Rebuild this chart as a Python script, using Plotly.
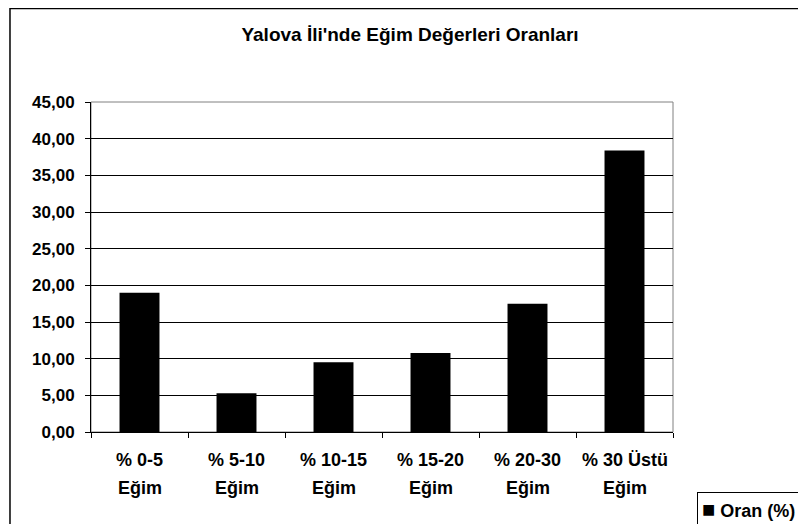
import plotly.graph_objects as go

# slope classes and their share (%)
categories = ['% 0-5', '% 5-10', '% 10-15', '% 15-20', '% 20-30', '% 30 Üstü']
second_line = ['Eğim'] * 6
values = [19.00, 5.28, 9.50, 10.78, 17.50, 38.37]
series_name = 'Oran (%)'
title_text = "Yalova İli'nde Eğim Değerleri Oranları"

font_family = 'Liberation Sans, Arial, sans-serif'

fig = go.Figure()
fig.add_trace(go.Bar(x=categories, y=values, name=series_name,
                     marker=dict(color='black', line=dict(width=0))))

# two-line category labels, Excel style spacing
annotations = []
for cat, sub in zip(categories, second_line):
    annotations.append(dict(x=cat, y=0, xref='x', yref='paper', text='<b>' + cat + '</b>',
                            showarrow=False, yanchor='middle', yshift=-28,
                            font=dict(size=18, color='black')))
    annotations.append(dict(x=cat, y=0, xref='x', yref='paper', text='<b>' + sub + '</b>',
                            showarrow=False, yanchor='middle', yshift=-56,
                            font=dict(size=18, color='black')))

# legend box in the lower right corner
annotations.append(dict(x=1.0412, y=-0.1818, xref='paper', yref='paper',
                        text='<span style="font-size:22px">■</span><b> ' + series_name + '</b>',
                        showarrow=False, xanchor='left', yanchor='top', align='left',
                        bordercolor='black', borderwidth=1, borderpad=4,
                        bgcolor='white', font=dict(size=18, color='black')))

shapes = [
    # plot area frame (grey)
    dict(type='rect', xref='paper', yref='paper', x0=0, x1=1, y0=0, y1=1,
         line=dict(color='#808080', width=1), layer='below'),
    # outer chart border
    dict(type='rect', xref='paper', yref='paper', x0=-0.1392, x1=1.2199, y0=-0.35, y1=1.2833,
         line=dict(color='black', width=1.5), layer='below'),
]

# page body has an 8px margin, so the figure is 8px smaller than the window
fig.update_layout(
    width=798, height=516,
    margin=dict(l=83, r=133, t=94, b=92, autoexpand=False),
    paper_bgcolor='white', plot_bgcolor='white',
    font=dict(family=font_family, size=17, color='black'),
    title=dict(text='<b>' + title_text + '</b>', x=402 / 798, xref='container', xanchor='center',
               y=1 - 26 / 516, yref='container', yanchor='middle',
               font=dict(size=19, color='black')),
    separators=',.',
    bargap=0.588,
    showlegend=False,
    annotations=annotations,
    shapes=shapes,
)
fig.update_xaxes(type='category', showticklabels=False, tickson='boundaries',
                 ticks='outside', ticklen=5, tickcolor='black',
                 showline=True, linecolor='black', linewidth=1, showgrid=False)
fig.update_yaxes(range=[0, 45], dtick=5, tickformat='.2f', ticks='outside', ticklen=5,
                 tickcolor='black', showline=True, linecolor='black', linewidth=1,
                 showgrid=True, gridcolor='black', gridwidth=1, zeroline=False,
                 tickfont=dict(size=17, color='black', weight='bold'), ticklabelstandoff=7)

fig.write_html('out.html')
